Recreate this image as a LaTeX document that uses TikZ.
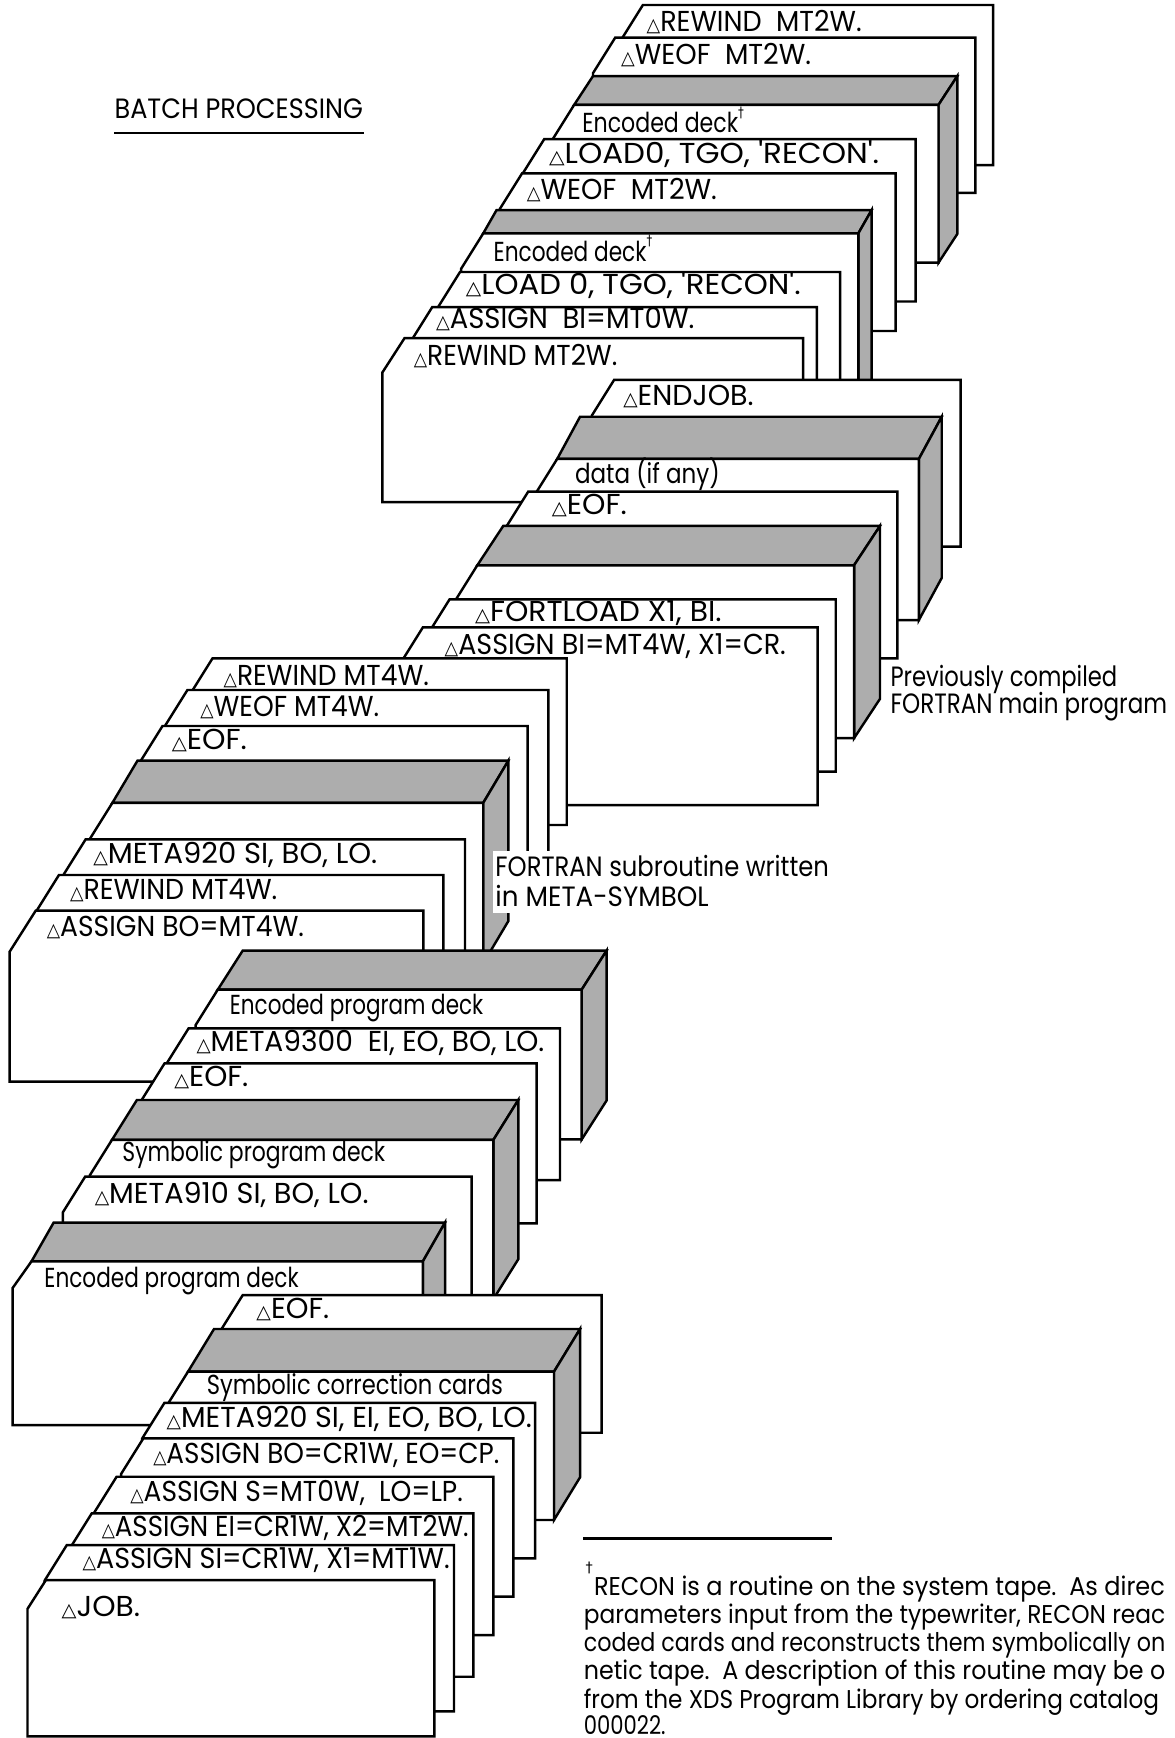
\documentclass[tikz,border=0pt]{standalone}
\usepackage{fontspec}
\usepackage{graphicx}
\newfontfamily\pf{Poppins}
\newfontfamily\dv{DejaVu Sans}
\newcommand\tri{{\dv\fontsize{8.5pt}{9pt}\selectfont △}}
\newcommand\dgr{\raisebox{0.55em}{\dv\fontsize{6.5pt}{7pt}\selectfont †}}
\newcommand\fitw[2]{\resizebox{#1pt}{\height}{#2}}
\tikzset{
 cardface/.style={draw=black,line width=1.1pt,fill=white,line join=miter},
 shadeface/.style={draw=black,line width=1.1pt,fill=black!32,line join=miter},
 ctext/.style={anchor=base west,inner sep=0pt,font=\pf\fontsize{13pt}{15pt}\selectfont},
 ltext/.style={anchor=base west,inner sep=0pt,font=\pf\fontsize{12.4pt}{15pt}\selectfont},
 lbl/.style={anchor=base west,inner sep=0pt,font=\pf\fontsize{12.6pt}{15pt}\selectfont},
 fnt/.style={anchor=base west,inner sep=0pt,font=\pf\fontsize{11.6pt}{14pt}\selectfont},
 rule/.style={draw=black,line width=1pt},
}
\def\cc{20}\def\ch{32}
% card: name, x0, top, xr, bottom, text x, baseline, text width (pt), text
\newcommand\crd[9]{%
 \draw[cardface] (#2,#3) -- (#4,#3) -- (#4,#5) -- ({#2-\cc},#5) -- ({#2-\cc},{#3+\ch}) -- cycle;
 \node[ctext] (#1) at (#6,#7) {\fitw{#8}{#9}};
}
% block: xb, yb, xbr, dx, dy, bottom
\newcommand\blk[6]{%
 \draw[shadeface] (#1,#2) -- (#3,#2) -- ({#3-#4},{#2+#5}) -- ({#1-#4},{#2+#5}) -- cycle;
 \draw[shadeface] (#3,#2) -- (#3,{#6-#5}) -- ({#3-#4},#6) -- ({#3-#4},{#2+#5}) -- cycle;
 \draw[cardface] ({#1-#4},{#2+#5}) -- ({#3-#4},{#2+#5}) -- ({#3-#4},#6) -- ({#1-#4-\cc},#6) -- ({#1-#4-\cc},{#2+#5+\ch}) -- cycle;
}
\begin{document}
\begin{tikzpicture}[x=0.5pt,y=-0.5pt]
\useasboundingbox (0,0) rectangle (1060,1568);
\clip (0,0) rectangle (1060,1568);
% header
\node[lbl] (hdr) at (103,106.5) {\fitw{112}{BATCH PROCESSING}};
\draw[line width=0.9pt] (103,120) -- (328,120);
% ---------- group 1 ----------
\crd{ga1}{580}{4.5}{896}{149}{583}{28.6}{97}{\tri REWIND\ \ MT2W.}
\crd{ga2}{555}{34}{880}{174}{560}{58.6}{85.7}{\tri WEOF\ \ MT2W.}
\blk{535}{68.6}{863.7}{17}{26}{237}
\node[ltext] (ga3) at (525,119.5) {\fitw{72.9}{Encoded deck\dgr}};
\crd{ga4}{491}{125.5}{826}{272}{495}{147.4}{148.9}{\tri LOAD0, TGO, 'RECON'.}
\crd{ga5}{471}{156.4}{808}{298.6}{475}{180.4}{85.7}{\tri WEOF\ \ MT2W.}
\blk{448}{189.5}{786.4}{12}{21}{430}
\node[ltext] (ga6) at (445,235.5) {\fitw{71.5}{Encoded deck\dgr}};
\crd{ga7}{415}{245.4}{758}{420}{420}{266}{151}{\tri LOAD 0,\ TGO,\ 'RECON'.}
\crd{ga8}{390}{277}{737}{440}{393}{296.2}{116.5}{\tri ASSIGN\ \ BI=MT0W.}
\def\ch{31}
\crd{ga9}{365}{305}{724.5}{453}{373}{329.3}{91.8}{\tri REWIND MT2W.}
\def\ch{32}
% ---------- group 2 ----------
\crd{gb1}{554}{342.8}{866.7}{493.2}{562}{365.4}{58.8}{\tri ENDJOB.}
\blk{523.3}{376}{849.6}{20.6}{38}{559.4}
\node[ltext] (gb2) at (518.4,436.5) {\fitw{65.3}{data (if any)}};
\crd{gb3}{476.5}{443.6}{809.6}{594}{497.5}{464.6}{33.8}{\tri EOF.}
\blk{454}{474.5}{793.9}{23.4}{35.5}{666}
\crd{gb4}{405.6}{540.7}{754}{696.2}{428.2}{560.9}{111.2}{\tri FORTLOAD X1, BI.}
\crd{gb5}{381.5}{566}{737.6}{726.3}{400.8}{590.9}{153.9}{\tri ASSIGN BI=MT4W, X1=CR.}
% ---------- group 3 ----------
\crd{gc1}{191.7}{594}{511.3}{744.3}{201.4}{618}{92.6}{\tri REWIND MT4W.}
\crd{gc2}{169.1}{622.5}{494.7}{800}{180.4}{646.6}{80.6}{\tri WEOF MT4W.}
\crd{gc3}{146.6}{655}{476}{800}{154.6}{676.6}{33.9}{\tri EOF.}
\blk{124}{686.3}{458.6}{22.6}{38}{869}
\crd{gc4}{77.3}{757.2}{419.5}{900}{83.8}{778.9}{128.1}{\tri META920 SI, BO, LO.}
\crd{gc5}{53.2}{789.4}{400}{930}{62.8}{811.4}{93.5}{\tri REWIND MT4W.}
\def\cc{23.5}\def\ch{37}
\crd{gc6}{32.2}{821.6}{382}{975.8}{41.9}{844.5}{116}{\tri ASSIGN BO=MT4W.}
\def\cc{20}\def\ch{32}
% label over group 3
\fill[white] (445,768) rectangle (752,824);
\node[lbl] (sub1) at (446.6,790.9) {\fitw{150.4}{FORTRAN subroutine written}};
\node[lbl] (sub2) at (446.6,818) {\fitw{96.2}{in META-SYMBOL}};
% ---------- group 4 ----------
\blk{219}{857.6}{547.3}{22.5}{35.2}{1028}
\node[ltext] (gd1) at (207,915.7) {\fitw{114.3}{Encoded program deck}};
\crd{gd2}{170.2}{927.7}{505.2}{1064.6}{176.9}{948.8}{156.9}{\tri META9300\ \ EI, EO, BO, LO.}
\crd{gd3}{148.5}{959.3}{484.2}{1103.7}{156.9}{980.4}{33.4}{\tri EOF.}
\blk{123.5}{992.4}{467.6}{22.5}{36}{1172}
\node[ltext] (gd4) at (110.1,1048) {\fitw{118.5}{Symbolic program deck}};
\crd{gd5}{76.8}{1061.6}{425.5}{1200}{85.1}{1085.6}{123.5}{\tri META910 SI, BO, LO.}
\def\cc{17}\def\ch{24}
\blk{48.4}{1103}{401.5}{20}{35}{1285.7}
\def\cc{20}\def\ch{32}
\node[ltext] (gd6) at (39.7,1161.9) {\fitw{114.7}{Encoded program deck}};
% ---------- group 5 ----------
\crd{ge1}{219}{1168.4}{542.8}{1292.6}{231}{1189.2}{32.8}{\tri EOF.}
\blk{193.1}{1199}{523.3}{23.5}{38.5}{1371.3}
\node[ltext] (ge2) at (186.2,1258.4) {\fitw{133.6}{Symbolic correction cards}};
\crd{ge3}{148.3}{1265.7}{482.7}{1406}{150}{1287.6}{164.7}{\tri META920 SI, EI, EO, BO, LO.}
\crd{ge4}{129.3}{1297.7}{463.1}{1440.5}{137.9}{1320.3}{156.1}{\tri ASSIGN BO=CR1W, EO=CP.}
\crd{ge5}{105.2}{1332.3}{445.1}{1475.1}{117.2}{1355}{150}{\tri ASSIGN S=MT0W,\ \ LO=LP.}
\crd{ge6}{82.8}{1365.3}{427}{1512.7}{91.4}{1385.9}{165.5}{\tri ASSIGN EI=CR1W, X2=MT2W.}
\crd{ge7}{60.3}{1393.9}{409.6}{1544}{74.1}{1415}{165.6}{\tri ASSIGN SI=CR1W, X1=MT1W.}
\def\cc{16.6}\def\ch{26}
\crd{ge8}{41.4}{1425.5}{391.9}{1566.5}{55.2}{1458.8}{35.4}{\tri JOB.}
\def\cc{20}\def\ch{32}
% ---------- side labels ----------
\node[lbl] (prev1) at (803,619.5) {\fitw{102.3}{Previously compiled}};
\node[lbl] (prev2) at (803,643.6) {\fitw{124.8}{FORTRAN main program}};
% ---------- footnote ----------
\draw[rule] (526.3,1387.9) -- (750.3,1387.9);
\node[anchor=base west,inner sep=0pt,font=\dv\fontsize{6.5pt}{7pt}\selectfont] (fn0) at (528,1419) {†};
\node[fnt] (fn1) at (535.5,1439) {\fitw{257.5}{RECON is a routine on the system tape.\ \ As direc}};
\node[fnt] (fn2) at (526.3,1464.5) {\fitw{262.3}{parameters input from the typewriter, RECON reac}};
\node[fnt] (fn3) at (526.3,1490) {\fitw{262.3}{coded cards and reconstructs them symbolically on}};
\node[fnt] (fn4) at (526.3,1515.5) {\fitw{262.3}{netic tape.\ \ A description of this routine may be o}};
\node[fnt] (fn5) at (526.3,1541) {\fitw{259.5}{from the XDS Program Library by ordering catalog}};
\node[fnt] (fn6) at (526.3,1565) {\fitw{36.9}{000022.}};
\end{tikzpicture}
\end{document}
